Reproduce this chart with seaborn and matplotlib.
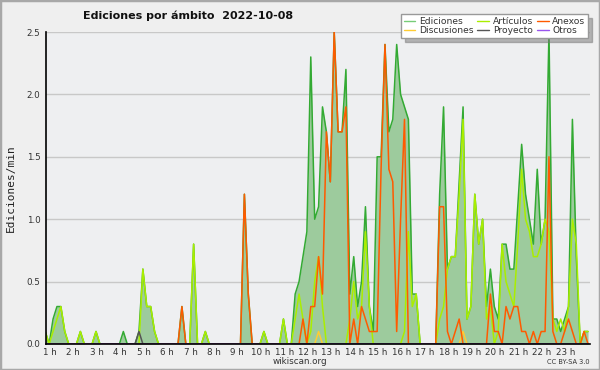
import numpy as np
import pandas as pd
import seaborn as sns
import matplotlib.pyplot as plt
from matplotlib.ticker import FixedLocator, MultipleLocator, FormatStrFormatter

# 10-minute slots, values in edits/min
ediciones = [0.1, 0, 0.2, 0.3, 0.3, 0.1, 0, 0, 0, 0.1,
             0, 0, 0, 0.1, 0, 0, 0, 0, 0, 0,
             0.1, 0, 0, 0, 0.1, 0.6, 0.3, 0.3, 0.1, 0,
             0, 0, 0, 0, 0, 0.3, 0, 0, 0.8, 0,
             0, 0.1, 0, 0, 0, 0, 0, 0, 0, 0,
             0, 1.2, 0.4, 0, 0, 0, 0.1, 0, 0, 0,
             0, 0.2, 0, 0, 0.4, 0.5, 0.7, 0.9, 2.3, 1.0,
             1.1, 1.9, 1.7, 1.3, 2.5, 1.7, 1.7, 2.2, 0.4, 0.7,
             0.3, 0.5, 1.1, 0.3, 0.1, 1.5, 1.5, 2.4, 1.7, 1.8,
             2.4, 2.0, 1.9, 1.8, 0.4, 0.4, 0, 0, 0, 0,
             0, 1.2, 1.9, 0.6, 0.7, 0.7, 1.3, 1.9, 0.2, 0.3,
             1.2, 0.8, 1.0, 0.3, 0.6, 0.3, 0.2, 0.8, 0.8, 0.6,
             0.6, 1.1, 1.6, 1.2, 1.0, 0.8, 1.4, 0.8, 1.0, 2.5,
             0.2, 0.2, 0.1, 0.2, 0.3, 1.8, 0.7, 0, 0.1, 0.1]
articulos = [0.1, 0, 0.1, 0.2, 0.3, 0.1, 0, 0, 0, 0.1,
             0, 0, 0, 0.1, 0, 0, 0, 0, 0, 0,
             0, 0, 0, 0, 0, 0.6, 0.3, 0.3, 0.1, 0,
             0, 0, 0, 0, 0, 0, 0, 0, 0.8, 0,
             0, 0.1, 0, 0, 0, 0, 0, 0, 0, 0,
             0, 0, 0, 0, 0, 0, 0.1, 0, 0, 0,
             0, 0.2, 0, 0, 0.2, 0.4, 0.2, 0, 0.1, 0.5,
             0.7, 0.3, 0, 0, 0, 0, 0, 0, 0.2, 0.5,
             0.2, 0.3, 0.9, 0.3, 0, 0, 0, 0, 0, 0,
             0, 0, 0.1, 0.9, 0.3, 0.4, 0, 0, 0, 0,
             0, 0.2, 0.3, 0.6, 0.7, 0.7, 1.2, 1.8, 0.2, 0.3,
             1.2, 0.8, 1.0, 0.2, 0.3, 0, 0.1, 0.8, 0.5, 0.4,
             0.3, 0.8, 1.4, 1.0, 0.9, 0.7, 0.7, 0.8, 1.0, 0.9,
             0.2, 0.1, 0.2, 0.1, 0.3, 1.0, 0.8, 0, 0.1, 0.1]
anexos = [0, 0, 0, 0, 0, 0, 0, 0, 0, 0,
          0, 0, 0, 0, 0, 0, 0, 0, 0, 0,
          0, 0, 0, 0, 0, 0, 0, 0, 0, 0,
          0, 0, 0, 0, 0, 0.3, 0, 0, 0, 0,
          0, 0, 0, 0, 0, 0, 0, 0, 0, 0,
          0, 1.2, 0.4, 0, 0, 0, 0, 0, 0, 0,
          0, 0, 0, 0, 0, 0, 0.2, 0, 0.3, 0.3,
          0.7, 0.4, 1.7, 1.3, 2.5, 1.7, 1.7, 1.9, 0, 0.2,
          0, 0.3, 0.2, 0.1, 0.1, 0.1, 1.4, 2.4, 1.4, 1.3,
          0.1, 1.0, 1.8, 0, 0, 0, 0, 0, 0, 0,
          0, 1.1, 1.1, 0.1, 0, 0.1, 0.2, 0, 0, 0,
          0, 0, 0, 0, 0.4, 0.1, 0.1, 0, 0.3, 0.2,
          0.3, 0.3, 0.1, 0.1, 0, 0.1, 0, 0.1, 0.1, 1.5,
          0.1, 0, 0, 0.1, 0.2, 0.1, 0, 0, 0.1, 0]
discusiones = [0] * 140
discusiones[70] = 0.1
discusiones[107] = 0.1
proyecto = [0] * 140
proyecto[24] = 0.1
otros = [0] * 140

horas = [f'{h} h' for h in range(1, 24)]

df = pd.DataFrame({'t': np.arange(140), 'Ediciones': ediciones, 'Artículos': articulos,
                   'Anexos': anexos, 'Discusiones': discusiones,
                   'Proyecto': proyecto, 'Otros': otros})

sns.set_style('white')
plt.rcParams['font.family'] = ['DejaVu Sans']

fig = plt.figure(figsize=(6, 3.7), dpi=100, facecolor='#efefef')
fig.patches.append(plt.Rectangle((0, 0), 1, 1, transform=fig.transFigure,
                                 fill=False, edgecolor='#a8a8a8', lw=2.5))
ax = fig.add_axes([0.0767, 0.0703, 0.9066, 0.8432])
ax.set_facecolor('#eeeff1')

ax.fill_between(df['t'], df['Ediciones'], color='#9dcb9d', lw=0)
colores = {'Ediciones': '#33aa33', 'Artículos': '#aaee00', 'Discusiones': '#ffcc33',
           'Proyecto': '#555555', 'Anexos': '#ff5a00', 'Otros': '#9955ee'}
for serie in ['Ediciones', 'Artículos', 'Discusiones', 'Proyecto', 'Anexos', 'Otros']:
    sns.lineplot(data=df, x='t', y=serie, ax=ax, color=colores[serie], lw=1.1, legend=False)

ax.set_xlim(0.2, 139.5)
ax.set_ylim(0, 2.5)
ax.yaxis.set_major_locator(MultipleLocator(0.5))
ax.yaxis.set_minor_locator(MultipleLocator(0.1))
ax.yaxis.set_major_formatter(FormatStrFormatter('%.1f'))
ax.xaxis.set_major_locator(FixedLocator([6 * h + 1.2 for h in range(23)]))
ax.xaxis.set_minor_locator(FixedLocator(list(np.arange(0.2, 139.6, 1))))
ax.set_xticklabels(horas)
ax.tick_params(axis='both', which='both', direction='out', color='black',
               labelsize=6.3, labelcolor='#333333', pad=0)
ax.tick_params(axis='both', which='major', length=4, width=1)
ax.tick_params(axis='both', which='minor', length=3, width=1)
ax.tick_params(axis='x', which='major', pad=-1)
ax.grid(axis='y', color='#c8c8c8', lw=1)
ax.set_axisbelow(True)
for lado in ['top', 'right']:
    ax.spines[lado].set_visible(False)
for lado in ['left', 'bottom']:
    ax.spines[lado].set_color('black')
    ax.spines[lado].set_linewidth(1.2)
ax.set_xlabel('')
ax.set_ylabel('Ediciones/min', family='DejaVu Sans Mono', fontsize=8, color='#222222', labelpad=8)

fig.text(0.313, 0.957, 'Ediciones por ámbito  2022-10-08', ha='center', va='center',
         fontsize=8, fontweight='bold', color='#111111')
fig.text(0.5, 0.022, 'wikiscan.org', ha='center', va='center', fontsize=6.3, color='#333333')
fig.text(0.983, 0.021, 'CC BY-SA 3.0', ha='right', va='center', fontsize=4.8, color='#333333')

handles = [plt.Line2D([], [], color=c, lw=1) for c in
           ['#77cc77', '#ffcc33', '#aaee00', '#555555', '#ff5a00', '#9955ee']]
etiquetas = ['Ediciones', 'Discusiones', 'Artículos', 'Proyecto', 'Anexos', 'Otros']
leg = fig.legend(handles, etiquetas, ncol=3, loc='upper right', bbox_to_anchor=(0.988, 0.974),
                 fontsize=6.6, frameon=True, fancybox=False,
                 shadow={'color': '#777777', 'ox': 3, 'oy': -3},
                 handlelength=1.3, handletextpad=0.4, columnspacing=0.4, labelspacing=0.0,
                 borderpad=0.3, labelcolor='#333333')
leg.get_frame().set_edgecolor('#999999')
leg.get_frame().set_linewidth(1)

fig.savefig('out.png', dpi=100, facecolor=fig.get_facecolor())
